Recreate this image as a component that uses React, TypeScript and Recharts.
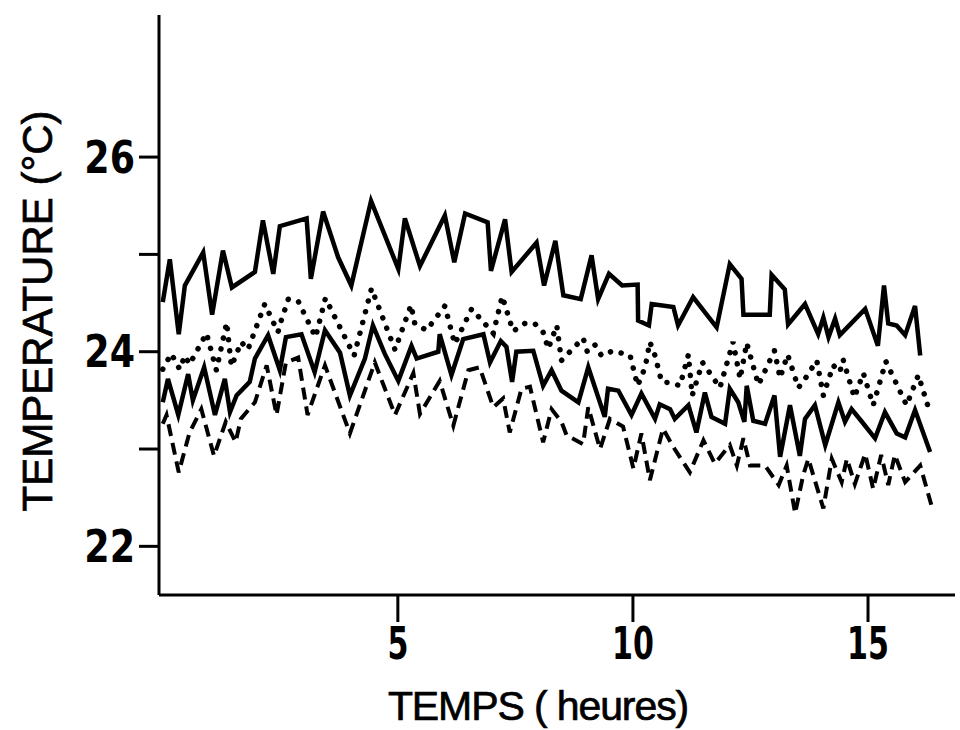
import React from 'react';
import { LineChart, Line, XAxis, YAxis, Customized } from 'recharts';

// [time (hours), temperature (°C)]
const upperSolid: [number, number][] = [
  [0, 24.51], [0.15, 24.95], [0.34, 24.18], [0.47, 24.68], [0.86, 25.02], [1.05, 24.38], [1.28, 25.04],
  [1.47, 24.66], [1.96, 24.82], [2.13, 25.35], [2.35, 24.8], [2.49, 25.29], [3.06, 25.37], [3.15, 24.75],
  [3.41, 25.44], [3.73, 24.97], [4.01, 24.68], [4.43, 25.55], [5.01, 24.85], [5.15, 25.37], [5.47, 24.88],
  [6.0, 25.4], [6.2, 24.92], [6.43, 25.42], [6.91, 25.33], [6.98, 24.83], [7.28, 25.36], [7.42, 24.82],
  [7.95, 25.12], [8.11, 24.68], [8.35, 25.14], [8.52, 24.58], [8.89, 24.54], [9.12, 24.99], [9.26, 24.54],
  [9.49, 24.8], [9.77, 24.68], [10.1, 24.69], [10.11, 24.32], [10.34, 24.27], [10.4, 24.49], [10.86, 24.46],
  [10.96, 24.27], [11.28, 24.56], [11.78, 24.25], [12.06, 24.9], [12.31, 24.75], [12.35, 24.38], [12.91, 24.38],
  [12.95, 24.79], [13.23, 24.64], [13.3, 24.28], [13.66, 24.49], [13.94, 24.18], [14.05, 24.35], [14.16, 24.15],
  [14.3, 24.34], [14.4, 24.17], [14.94, 24.44], [15.21, 24.06], [15.34, 24.68], [15.43, 24.29], [15.61, 24.27],
  [15.79, 24.17], [16.0, 24.47], [16.11, 23.96],
];

const dotted: [number, number][] = [
  [0, 23.82], [0.18, 23.98], [0.36, 23.82], [0.47, 23.96], [0.57, 23.87], [0.93, 24.19], [1.14, 23.81],
  [1.36, 24.3], [1.46, 23.85], [1.67, 24.1], [1.81, 24.02], [2.17, 24.49], [2.45, 24.2], [2.52, 24.32],
  [2.67, 24.54], [2.88, 24.52], [3.25, 24.15], [3.46, 24.55], [4.07, 23.96], [4.44, 24.65], [4.94, 24.02],
  [5.28, 24.48], [5.36, 24.29], [5.61, 24.22], [6.0, 24.47], [6.21, 24.08], [6.57, 24.44], [7.03, 24.19],
  [7.22, 24.57], [7.45, 24.21], [7.7, 24.29], [7.91, 24.29], [8.09, 24.2], [8.2, 24.03], [8.38, 24.27],
  [8.48, 23.91], [8.94, 24.14], [9.03, 24.0], [9.19, 24.07], [9.33, 23.96], [9.58, 24.01], [9.94, 23.96],
  [10.1, 23.65], [10.26, 23.84], [10.36, 24.1], [10.47, 23.96], [10.61, 23.69], [10.82, 23.68], [11.0, 23.65],
  [11.18, 23.97], [11.26, 23.55], [11.48, 23.89], [11.85, 23.63], [12.13, 24.1], [12.28, 23.72], [12.42, 24.09],
  [12.67, 23.66], [13.01, 24.01], [13.13, 23.73], [13.29, 23.97], [13.52, 23.63], [13.66, 23.72], [13.91, 23.91],
  [14.05, 23.55], [14.26, 23.86], [14.4, 23.79], [14.47, 23.92], [14.71, 23.53], [14.9, 23.78], [15.11, 23.45],
  [15.38, 23.9], [15.82, 23.45], [16.07, 23.76], [16.32, 23.37],
];

const middleSolid: [number, number][] = [
  [0, 23.48], [0.11, 23.72], [0.33, 23.35], [0.54, 23.77], [0.64, 23.5], [0.88, 23.84], [1.11, 23.35],
  [1.32, 23.72], [1.43, 23.38], [1.57, 23.55], [1.85, 23.69], [1.96, 23.93], [2.24, 24.17], [2.49, 23.81],
  [2.62, 24.15], [2.95, 24.18], [3.23, 23.79], [3.45, 24.22], [3.77, 23.99], [3.98, 23.55], [4.3, 23.93],
  [4.47, 24.27], [4.72, 23.98], [5.01, 23.7], [5.29, 24.06], [5.4, 23.93], [5.86, 24.0], [5.89, 24.18],
  [6.14, 23.76], [6.39, 24.13], [6.82, 24.18], [6.96, 23.89], [7.19, 24.11], [7.31, 24.05], [7.43, 23.69],
  [7.52, 24.0], [7.88, 24.01], [8.09, 23.65], [8.27, 23.81], [8.48, 23.6], [8.84, 23.48], [9.05, 23.84],
  [9.4, 23.33], [9.47, 23.62], [9.69, 23.6], [9.97, 23.35], [10.18, 23.57], [10.47, 23.31], [10.57, 23.46],
  [10.79, 23.41], [10.89, 23.31], [11.18, 23.45], [11.35, 23.17], [11.53, 23.58], [11.67, 23.33], [11.96, 23.26],
  [12.06, 23.62], [12.24, 23.48], [12.37, 23.28], [12.42, 23.65], [12.56, 23.29], [12.81, 23.26], [13.01, 23.55],
  [13.13, 22.92], [13.34, 23.45], [13.55, 22.93], [13.66, 23.31], [13.87, 23.45], [14.09, 23.04], [14.37, 23.48],
  [14.51, 23.28], [14.65, 23.41], [14.87, 23.28], [15.15, 23.11], [15.36, 23.38], [15.61, 23.16], [15.79, 23.12],
  [16.0, 23.4], [16.32, 22.97],
];

const dashed: [number, number][] = [
  [0, 23.26], [0.08, 23.35], [0.34, 22.76], [0.57, 23.17], [0.82, 23.41], [1.09, 22.93], [1.34, 23.28],
  [1.55, 23.07], [1.66, 23.31], [1.96, 23.48], [2.21, 23.86], [2.42, 23.35], [2.62, 23.89], [2.88, 23.94],
  [3.08, 23.35], [3.45, 23.86], [3.98, 23.16], [4.51, 23.89], [4.94, 23.35], [5.33, 23.78], [5.47, 23.36],
  [5.89, 23.7], [6.18, 23.24], [6.5, 23.81], [6.74, 23.84], [7.03, 23.43], [7.24, 23.52], [7.38, 23.17],
  [7.63, 23.62], [7.81, 23.64], [8.09, 23.07], [8.27, 23.41], [8.48, 23.28], [8.59, 23.14], [8.94, 23.05],
  [9.05, 23.43], [9.3, 23.0], [9.51, 23.31], [9.79, 23.23], [10.01, 22.8], [10.18, 23.16], [10.36, 22.68],
  [10.64, 23.21], [10.86, 23.02], [11.21, 22.76], [11.5, 23.09], [11.74, 22.85], [12.06, 23.04], [12.21, 22.83],
  [12.35, 23.11], [12.49, 22.83], [12.81, 22.83], [13.1, 22.63], [13.27, 22.83], [13.45, 22.34], [13.62, 22.73],
  [13.73, 22.9], [14.05, 22.39], [14.23, 22.9], [14.44, 22.66], [14.55, 22.9], [14.72, 22.64], [14.94, 22.95],
  [15.11, 22.59], [15.28, 22.94], [15.43, 22.63], [15.57, 22.94], [15.79, 22.66], [16.11, 22.83], [16.35, 22.42],
];

const xTicks = [5, 10, 15];
const yTicks = [22, 23, 24, 25, 26];
const yLabelled = [22, 24, 26];

const toRows = (s: [number, number][]) => s.map(([t, v]) => ({ t, v }));

const NARROW = "'Liberation Sans Narrow', 'DejaVu Sans Condensed', 'Liberation Sans', sans-serif";
const SANS = "'Liberation Sans', Arial, Helvetica, sans-serif";

const XTick = (props: any) => {
  const { x, y, payload } = props;
  return (
    <text transform={`translate(${x},${y}) scale(0.76,1)`} x={0} y={0} dy="0.71em" textAnchor="middle"
      fontSize={44} fontWeight={700} fontFamily={NARROW} fill="#000">
      {String(payload.value)}
    </text>
  );
};

const YTick = (props: any) => {
  const { x, y, payload } = props;
  if (!yLabelled.includes(payload.value)) return <g />;
  return (
    <text transform={`translate(${x},${y}) scale(0.92,1)`} x={0} y={0} dy="0.355em" textAnchor="end"
      fontSize={44} fontWeight={700} fontFamily={NARROW} fill="#000">
      {String(payload.value)}
    </text>
  );
};

const Titles = () => (
  <g>
    <text x={52} y={311} transform="rotate(-90 52 311)" textAnchor="middle" fontSize={42}
      fontFamily={SANS} fill="#000" stroke="#000" strokeWidth={0.7}>TEMPERATURE (°C)</text>
    <text x={538} y={720} textAnchor="middle" fontSize={41} letterSpacing={-1.1}
      fontFamily={SANS} fill="#000" stroke="#000" strokeWidth={0.7}>TEMPS ( heures)</text>
  </g>
);

export default function App() {
  return (
    <div style={{ position: 'absolute', left: 0, top: 0, width: 960, height: 730, background: '#fff' }}>
      <LineChart width={960} height={730} margin={{ top: 15, right: 5, bottom: 75, left: 0 }}>
        <XAxis
          type="number"
          dataKey="t"
          domain={[-0.08, 16.85]}
          ticks={xTicks}
          allowDataOverflow
          interval={0}
          height={60}
          tickSize={27}
          tickMargin={6}
          axisLine={{ stroke: '#000', strokeWidth: 3 }}
          tickLine={{ stroke: '#000', strokeWidth: 3 }}
          tick={XTick}
        />
        <YAxis
          type="number"
          domain={[21.5, 27.46]}
          ticks={yTicks}
          allowDataOverflow
          interval={0}
          width={159}
          tickSize={20}
          tickMargin={4}
          axisLine={{ stroke: '#000', strokeWidth: 3 }}
          tickLine={{ stroke: '#000', strokeWidth: 3 }}
          tick={YTick}
        />
        <Line data={toRows(upperSolid)} dataKey="v" type="linear" stroke="#000" strokeWidth={4.5}
          strokeLinejoin="miter" dot={false} isAnimationActive={false} />
        <Line data={toRows(dotted)} dataKey="v" type="linear" stroke="#000" strokeWidth={5.5}
          strokeDasharray="0.1 11" strokeLinecap="round" dot={false} isAnimationActive={false} />
        <Line data={toRows(middleSolid)} dataKey="v" type="linear" stroke="#000" strokeWidth={4.5}
          strokeLinejoin="miter" dot={false} isAnimationActive={false} />
        <Line data={toRows(dashed)} dataKey="v" type="linear" stroke="#000" strokeWidth={4}
          strokeDasharray="12 7" dot={false} isAnimationActive={false} />
        <Customized component={Titles} />
      </LineChart>
    </div>
  );
}
